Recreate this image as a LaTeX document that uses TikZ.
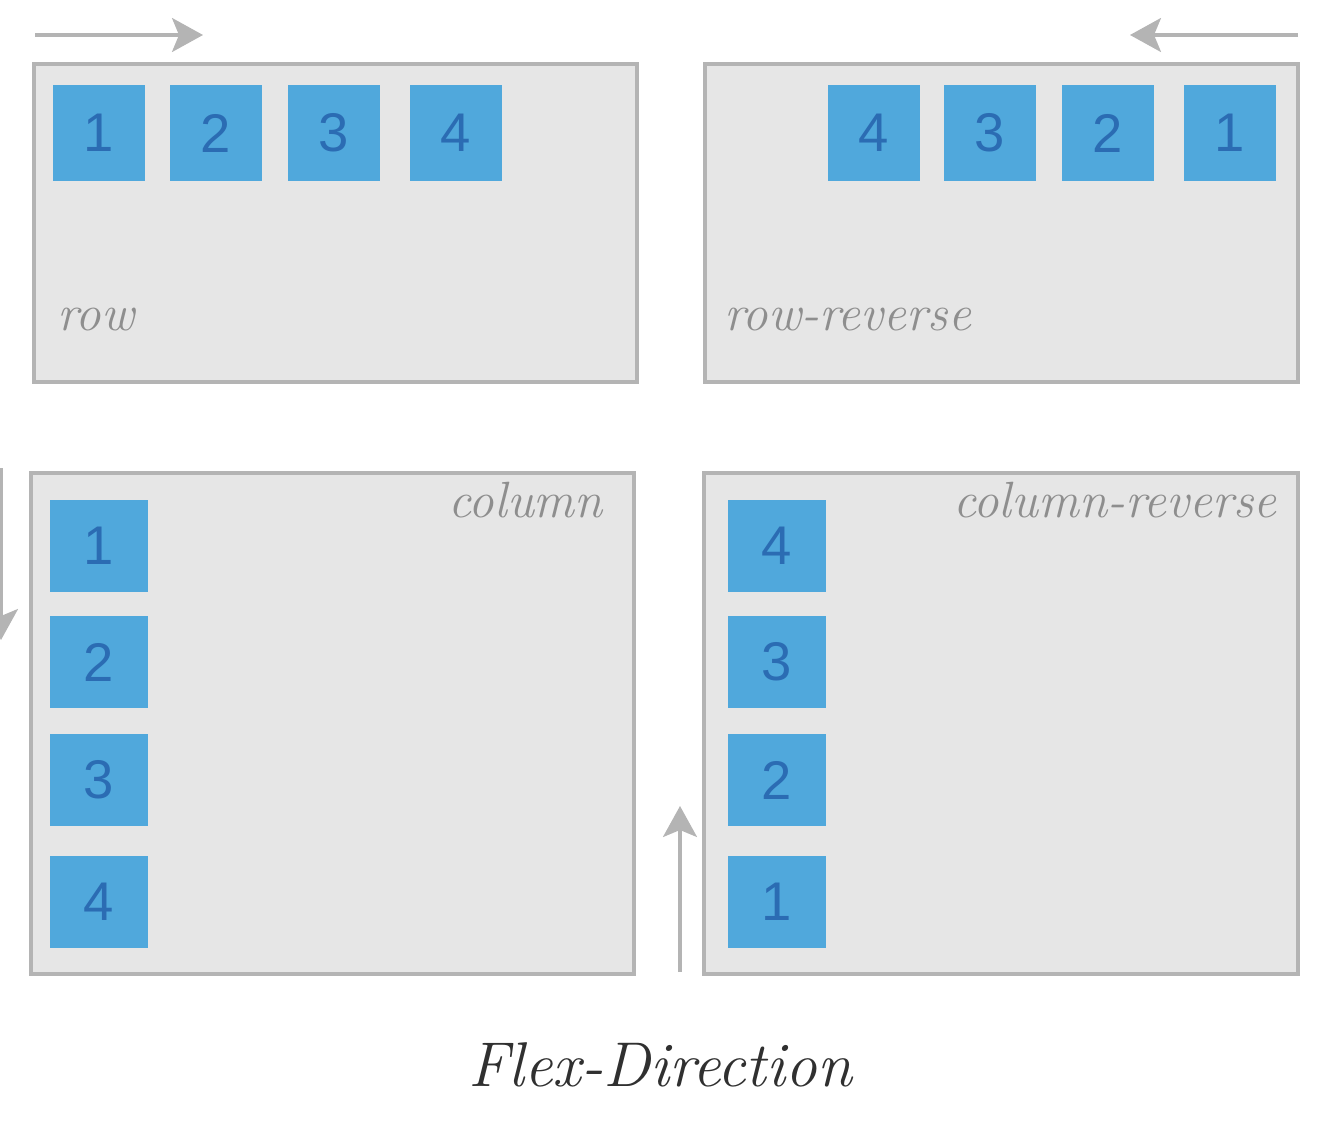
\documentclass[tikz,border=0pt]{standalone}
\usepackage{fontspec}
\newfontfamily\numfont{Liberation Sans}
\usetikzlibrary{arrows.meta}
\definecolor{panelfill}{HTML}{E6E6E6}
\definecolor{panelline}{HTML}{B4B4B4}
\definecolor{itemblue}{HTML}{50A8DC}
\definecolor{itemtext}{HTML}{2B6CB3}
\definecolor{labelgray}{HTML}{8E8E8E}
\definecolor{titlegray}{HTML}{303030}
\tikzset{
  panel/.style={fill=panelfill, draw=panelline, line width=2.2pt},
  item/.style={fill=itemblue, inner sep=0pt, minimum width=1.84cm, minimum height=1.92cm,
    text=itemtext, font=\numfont\fontsize{31}{31}\selectfont},
  vitem/.style={item, minimum width=1.96cm, minimum height=1.84cm},
  flowarrow/.style={draw=panelline, line width=1.8pt,
    -{Stealth[length=0.62cm, width=0.68cm, inset=0.14cm]}},
  caption/.style={text=labelgray, inner sep=0pt, font=\itshape\fontsize{29}{29}\selectfont}
}
\begin{document}
\begin{tikzpicture}[x=0.02cm, y=-0.02cm]
  \useasboundingbox (0, 0) rectangle (1332, 1122);

  % containers
  \draw [panel] (34, 64) rectangle (637, 382);
  \draw [panel] (705, 64) rectangle (1298, 382);
  \draw [panel] (31, 473) rectangle (634, 974);
  \draw [panel] (704, 473) rectangle (1298, 974);

  % row
  \foreach \n/\x in {1/99, 2/216, 3/334, 4/456}
    \node [item] (row\n) at (\x, 133) {\n};
  % row-reverse
  \foreach \n/\x in {4/874, 3/990, 2/1108, 1/1230}
    \node [item] (rrev\n) at (\x, 133) {\n};
  % column
  \foreach \n/\y in {1/546, 2/662, 3/780, 4/902}
    \node [vitem] (col\n) at (99, \y) {\n};
  % column-reverse
  \foreach \n/\y in {4/546, 3/662, 2/780, 1/902}
    \node [vitem] (crev\n) at (777, \y) {\n};

  % labels
  \node [caption, anchor=base west] (rowlab) at (57, 330) {row};
  \node [caption, anchor=base west] (rrevlab) at (724, 330) {row-reverse};
  \node [caption, anchor=base east] (collab) at (603, 517) {column};
  \node [caption, anchor=base east] (crevlab) at (1277, 517) {column-reverse};

  % direction arrows
  \coordinate (rowa) at (35, 35);
  \coordinate (rowb) at (203, 35);
  \coordinate (rreva) at (1298, 35);
  \coordinate (rrevb) at (1130, 35);
  \coordinate (cola) at (1, 468);
  \coordinate (colb) at (1, 640);
  \coordinate (creva) at (680, 972);
  \coordinate (crevb) at (680, 806);
  \draw [flowarrow] (rowa) -- (rowb);
  \draw [flowarrow] (rreva) -- (rrevb);
  \draw [flowarrow] (cola) -- (colb);
  \draw [flowarrow] (creva) -- (crevb);

  \node [text=titlegray, inner sep=0pt, anchor=base, font=\itshape\fontsize{36}{36}\selectfont]
    (title) at (660, 1086) {Flex-Direction};
\end{tikzpicture}
\end{document}
